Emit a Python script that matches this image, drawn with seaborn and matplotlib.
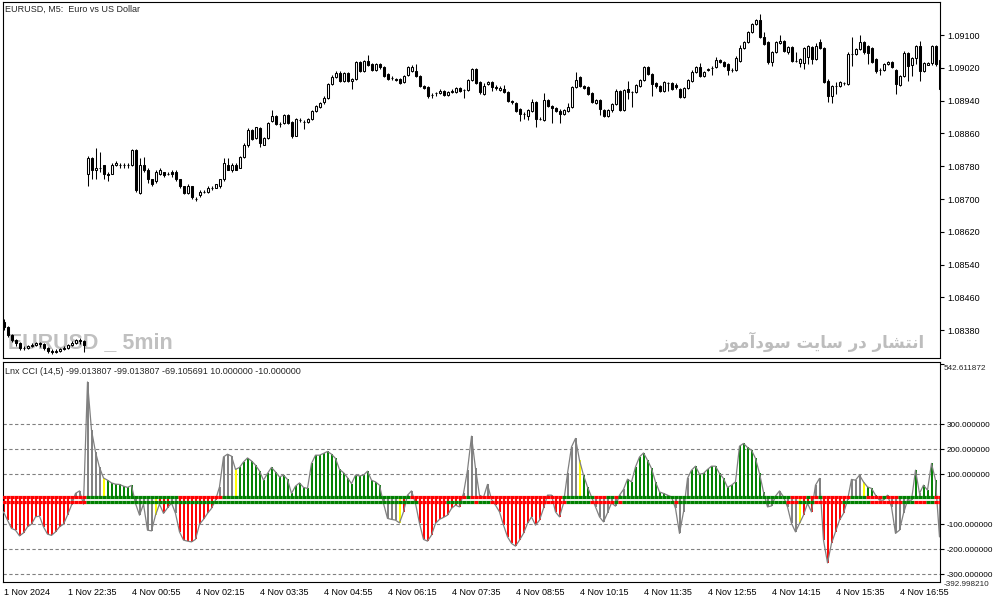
import matplotlib
matplotlib.use("Agg")
import matplotlib.pyplot as plt
import numpy as np
import pandas as pd
import seaborn as sns

# EURUSD M5 candles, prices in points (1e-5)
open_pts = [
    108400, 108388, 108369, 108356, 108349, 108337, 108337, 108342, 108344, 108349,
    108347, 108337, 108330, 108327, 108330, 108334, 108337, 108344, 108349, 108356,
    108354, 108760, 108799, 108770, 108777, 108782, 108760, 108762, 108784, 108784,
    108782, 108782, 108782, 108819, 108716, 108782, 108772, 108748, 108743, 108760,
    108765, 108762, 108767, 108767, 108748, 108731, 108716, 108731, 108701, 108709,
    108718, 108718, 108728, 108728, 108731, 108748, 108784, 108772, 108784, 108777,
    108802, 108831, 108868, 108848, 108873, 108833, 108848, 108890, 108902, 108882,
    108885, 108904, 108887, 108855, 108892, 108887, 108887, 108895, 108914, 108924,
    108936, 108946, 108980, 108997, 109007, 108987, 109007, 108987, 108992, 109034,
    109012, 109036, 109029, 109014, 109029, 109022, 109005, 108995, 108992, 108992,
    108985, 109002, 109012, 109012, 109000, 108975, 108973, 108953, 108958, 108958,
    108963, 108953, 108961, 108961, 108970, 108965, 108965, 108990, 109017, 108985,
    108956, 108980, 108985, 108973, 108965, 108968, 108961, 108939, 108934, 108919,
    108907, 108902, 108914, 108936, 108895, 108892, 108941, 108926, 108921, 108914,
    108907, 108914, 108924, 108973, 108997, 108975, 108973, 108958, 108934, 108941,
    108917, 108902, 108917, 108931, 108963, 108917, 108968, 108961, 108961, 108975,
    108990, 109022, 109005, 108983, 108975, 108963, 108983, 108983, 108978, 108968,
    108948, 108970, 108987, 109010, 109022, 109000, 109014, 109019, 109022, 109039,
    109034, 109029, 109014, 109014, 109036, 109068, 109083, 109107, 109127, 109137,
    109095, 109083, 109034, 109058, 109080, 109085, 109058, 109071, 109036, 109032,
    109032, 109046, 109071, 109041, 109083, 109068, 108987, 108951, 108975, 108975,
    108983, 108980, 109054, 109054, 109066, 109083, 109073, 109068, 109041, 109014,
    109014, 109029, 109034, 109014, 108978, 109000, 109056, 109027, 109044, 109073,
    109012, 109027, 109032, 109073, 109039,
]
high_pts = [
    108408, 108391, 108371, 108359, 108352, 108342, 108344, 108349, 108352, 108352,
    108349, 108339, 108334, 108334, 108337, 108342, 108347, 108354, 108359, 108361,
    108356, 108804, 108802, 108824, 108814, 108784, 108765, 108789, 108792, 108789,
    108787, 108787, 108821, 108821, 108799, 108802, 108775, 108750, 108770, 108775,
    108767, 108767, 108770, 108770, 108750, 108733, 108736, 108733, 108706, 108723,
    108723, 108731, 108733, 108738, 108750, 108799, 108799, 108789, 108787, 108804,
    108836, 108873, 108870, 108877, 108875, 108851, 108887, 108917, 108904, 108887,
    108907, 108907, 108890, 108897, 108897, 108892, 108897, 108917, 108929, 108936,
    108951, 108983, 109002, 109012, 109012, 109010, 109010, 108995, 109036, 109036,
    109039, 109051, 109032, 109032, 109032, 109024, 109007, 109000, 108995, 108995,
    109002, 109024, 109027, 109029, 109002, 108978, 108975, 108958, 108961, 108968,
    108965, 108963, 108968, 108973, 108973, 108968, 108992, 109019, 109019, 108987,
    108983, 108987, 108987, 108978, 108975, 108978, 108963, 108941, 108936, 108921,
    108912, 108919, 108943, 108939, 108899, 108958, 108943, 108929, 108924, 108919,
    108919, 108934, 108975, 109010, 109000, 108978, 108975, 108961, 108943, 108943,
    108919, 108919, 108934, 108968, 108965, 108968, 108987, 108963, 108980, 108992,
    109024, 109024, 109007, 108985, 108978, 108987, 108985, 108985, 108983, 108970,
    108973, 108992, 109014, 109024, 109032, 109012, 109019, 109024, 109046, 109041,
    109036, 109032, 109019, 109049, 109076, 109085, 109110, 109129, 109139, 109151,
    109107, 109085, 109061, 109085, 109100, 109088, 109073, 109073, 109058, 109044,
    109071, 109076, 109073, 109080, 109090, 109071, 108992, 108978, 108985, 108987,
    108985, 109058, 109095, 109068, 109100, 109085, 109076, 109071, 109044, 109019,
    109032, 109036, 109036, 109017, 109002, 109061, 109058, 109046, 109076, 109085,
    109034, 109034, 109076, 109076, 109041,
]
low_pts = [
    108381, 108364, 108352, 108342, 108332, 108332, 108334, 108339, 108342, 108339,
    108332, 108325, 108322, 108325, 108327, 108332, 108334, 108342, 108347, 108347,
    108327, 108731, 108748, 108748, 108765, 108748, 108743, 108760, 108780, 108777,
    108777, 108777, 108780, 108718, 108713, 108765, 108740, 108733, 108740, 108758,
    108753, 108758, 108755, 108745, 108728, 108713, 108713, 108699, 108696, 108706,
    108716, 108716, 108723, 108726, 108728, 108745, 108770, 108767, 108770, 108775,
    108799, 108828, 108843, 108846, 108826, 108831, 108846, 108887, 108880, 108877,
    108882, 108882, 108848, 108853, 108887, 108870, 108885, 108892, 108912, 108921,
    108931, 108943, 108978, 108995, 108985, 108985, 108985, 108968, 108990, 109010,
    109010, 109024, 109012, 109012, 109017, 108997, 108990, 108990, 108987, 108980,
    108983, 109000, 109010, 108997, 108973, 108968, 108946, 108946, 108951, 108956,
    108951, 108951, 108958, 108958, 108961, 108946, 108963, 108987, 108980, 108956,
    108953, 108978, 108963, 108965, 108963, 108958, 108936, 108931, 108912, 108890,
    108895, 108892, 108912, 108875, 108892, 108890, 108924, 108885, 108912, 108885,
    108904, 108912, 108921, 108970, 108973, 108968, 108953, 108934, 108931, 108904,
    108899, 108899, 108912, 108929, 108914, 108914, 108943, 108924, 108958, 108973,
    108987, 109002, 108951, 108970, 108961, 108961, 108963, 108965, 108968, 108946,
    108946, 108968, 108985, 109007, 108997, 108997, 109012, 109002, 109019, 109032,
    109022, 109002, 109010, 109012, 109034, 109066, 109080, 109105, 109124, 109093,
    109076, 109029, 109024, 109056, 109078, 109058, 109054, 109034, 109034, 109022,
    109017, 109029, 109029, 109039, 109066, 108983, 108936, 108934, 108956, 108973,
    108978, 108978, 109024, 109051, 109063, 109054, 109029, 109032, 109007, 109002,
    109012, 109027, 109019, 108956, 108975, 108997, 108987, 109000, 109029, 108987,
    109010, 109027, 109027, 109024, 108961,
]
close_pts = [
    108388, 108369, 108356, 108349, 108337, 108337, 108342, 108344, 108349, 108347,
    108337, 108330, 108327, 108330, 108334, 108337, 108344, 108349, 108356, 108354,
    108344, 108799, 108770, 108777, 108777, 108760, 108758, 108784, 108789, 108782,
    108784, 108782, 108819, 108723, 108782, 108770, 108748, 108738, 108765, 108770,
    108758, 108762, 108760, 108748, 108731, 108716, 108731, 108704, 108701, 108718,
    108718, 108726, 108728, 108736, 108748, 108787, 108772, 108784, 108772, 108802,
    108831, 108868, 108846, 108875, 108838, 108848, 108885, 108902, 108882, 108882,
    108904, 108885, 108855, 108895, 108892, 108887, 108895, 108914, 108926, 108934,
    108946, 108980, 108997, 109007, 108987, 109007, 108987, 108992, 109034, 109012,
    109036, 109027, 109014, 109029, 109022, 109000, 108992, 108995, 108990, 108983,
    109000, 109022, 109022, 109000, 108975, 108970, 108951, 108953, 108958, 108963,
    108953, 108961, 108963, 108970, 108963, 108965, 108990, 109017, 108983, 108961,
    108975, 108985, 108973, 108970, 108970, 108961, 108939, 108936, 108914, 108907,
    108907, 108917, 108936, 108895, 108895, 108941, 108926, 108921, 108914, 108907,
    108917, 108924, 108973, 108990, 108975, 108970, 108956, 108936, 108941, 108919,
    108902, 108917, 108931, 108963, 108917, 108965, 108961, 108961, 108978, 108990,
    109022, 109005, 108980, 108975, 108963, 108985, 108983, 108968, 108973, 108948,
    108970, 108990, 109010, 109022, 109000, 109010, 109017, 109019, 109039, 109034,
    109024, 109014, 109014, 109044, 109068, 109083, 109107, 109127, 109137, 109095,
    109078, 109034, 109058, 109083, 109085, 109061, 109071, 109036, 109036, 109041,
    109068, 109073, 109041, 109073, 109068, 108985, 108951, 108975, 108975, 108985,
    108983, 109054, 109054, 109066, 109083, 109058, 109056, 109034, 109012, 109014,
    109029, 109034, 109022, 108980, 109000, 109056, 109024, 109044, 109073, 109012,
    109032, 109032, 109073, 109029, 108968,
]

# Lnx CCI (14,5) histogram values
cci = [
    -51, -84, -117, -124, -147, -135, -111, -100, -71, -68,
    -111, -140, -145, -131, -111, -100, -64, -24, 23, 33,
    -20, 469, 276, 189, 127, 85, 76, 65, 60, 59,
    52, 47, 55, -17, -64, -20, -124, -127, -64, -20,
    -57, -35, -15, -57, -131, -164, -168, -171, -161, -100,
    -81, -57, -37, -4, 49, 169, 180, 172, 119, 127,
    149, 165, 153, 136, 113, 76, 103, 127, 109, 89,
    96, 79, 23, 52, 65, 47, 43, 143, 176, 176,
    183, 191, 180, 163, 119, 106, 86, 62, 96, 93,
    96, 112, 76, 69, 56, -17, -77, -81, -84, -95,
    -51, 16, 33, -17, -97, -161, -168, -144, -97, -81,
    -73, -64, -37, -24, -31, 23, 116, 252, 123, 16,
    7, 59, -1, -24, -51, -104, -151, -177, -188, -164,
    -137, -97, -71, -104, -84, -37, 16, 16, -51, -71,
    -17, 103, 209, 243, 156, 96, 49, 9, -31, -71,
    -91, -55, -15, -28, 16, 39, 80, 69, 129, 169,
    185, 156, 123, 69, 29, 23, 16, 9, -37, -137,
    -51, 83, 116, 132, 100, 103, 119, 132, 132, 103,
    83, 47, 56, 69, 212, 223, 207, 196, 163, 103,
    29, -31, -27, 12, 33, 9, -31, -97, -131, -97,
    -64, -17, -51, 56, 83, -164, -255, -177, -131, -84,
    -57, -4, 79, 76, 96, 69, 49, 43, 16, -4,
    -4, 16, -31, -137, -124, -57, -4, -4, 116, 23,
    56, 36, 143, 76, -151,
]

# histogram colour runs: r=down, g=up, k=neutral, y=signal
hist_runs = [("r", 17), ("k", 8), ("y", 1), ("g", 7), ("k", 5), ("y", 1), ("r", 3), ("k", 2),
             ("r", 10), ("k", 4), ("y", 1), ("g", 36), ("k", 4), ("y", 1), ("r", 1), ("k", 2),
             ("r", 12), ("k", 8), ("r", 13), ("k", 2), ("r", 2), ("k", 4), ("y", 1), ("g", 2),
             ("k", 9), ("g", 11), ("k", 5), ("g", 19), ("k", 2), ("g", 1), ("k", 5), ("y", 1),
             ("r", 3), ("k", 2), ("r", 6), ("k", 4), ("y", 1), ("g", 3), ("k", 9), ("g", 1),
             ("k", 1), ("g", 4), ("k", 1)]
upper_runs = [("r", 21), ("g", 23), ("r", 11), ("g", 47), ("r", 14), ("g", 1), ("r", 23), ("g", 8),
              ("r", 3), ("g", 2), ("r", 1), ("g", 43), ("r", 4), ("g", 1), ("r", 2), ("g", 1),
              ("r", 7), ("g", 4), ("r", 4), ("g", 1), ("r", 3), ("g", 9), ("r", 2)]
lower_runs = [("r", 21), ("g", 83), ("r", 7), ("g", 7), ("r", 1), ("g", 3), ("r", 19), ("g", 6),
              ("r", 6), ("g", 1), ("r", 1), ("g", 13), ("r", 1), ("g", 27), ("r", 3), ("g", 4),
              ("r", 7), ("g", 7), ("r", 8), ("g", 3), ("r", 3), ("g", 2), ("r", 2)]
level_hi, level_lo = 10.0, -10.0

tick_bars = [0, 16, 32, 48, 64, 80, 96, 112, 128, 144, 160, 176, 192, 208, 224]
tick_labels = ["1 Nov 2024", "1 Nov 22:35", "4 Nov 00:55", "4 Nov 02:15", "4 Nov 03:35",
               "4 Nov 04:55", "4 Nov 06:15", "4 Nov 07:35", "4 Nov 08:55", "4 Nov 10:15",
               "4 Nov 11:35", "4 Nov 12:55", "4 Nov 14:15", "4 Nov 15:35", "4 Nov 16:55"]
price_ticks = [1.0838, 1.0846, 1.0854, 1.0862, 1.0870, 1.0878, 1.0886, 1.0894, 1.0902, 1.0910]
cci_ticks = [300, 200, 100, -100, -200, -300]
cci_max, cci_min = 542.611872, -392.998210

PALETTE = {"r": "#ff0000", "g": "#008000", "k": "#808080", "y": "#ffff00"}


def expand(runs):
    return [PALETTE[c] for c, n in runs for _ in range(n)]


df = pd.DataFrame({"open": open_pts, "high": high_pts, "low": low_pts, "close": close_pts}) / 1e5
df["cci"] = cci
n = len(df)
idx = np.arange(n)

sns.set_style("white")
plt.rcParams["font.family"] = ["Liberation Sans", "DejaVu Sans"]

W, H = 994, 603
fig = plt.figure(figsize=(W / 100, H / 100), dpi=100)


def box(l, t, r, b):
    return [l / W, 1 - b / H, (r - l) / W, (b - t) / H]


ax = fig.add_axes(box(3, 2, 940, 358))
ax2 = fig.add_axes(box(3, 362, 940, 581.5))
xlim = (-0.125, 234.125)

# --- price panel
bull = df["close"] >= df["open"]
ax.vlines(idx, df["low"], df["high"], color="black", lw=0.75, zorder=2)
ax.bar(idx, (df["close"] - df["open"]).abs(), bottom=df[["open", "close"]].min(axis=1),
       width=0.5, color=np.where(bull, "white", "black"), edgecolor="black",
       linewidth=0.75, zorder=3)
ax.set_xlim(*xlim)
ax.set_ylim(1.083124, 1.091807)
ax.set_xticks([])
ax.yaxis.tick_right()
ax.set_yticks(price_ticks)
ax.set_yticklabels([f"{p:.5f}" for p in price_ticks])

# watermarks (under the candles)
ax.text(8 / W, 1 - 343 / H, "EURUSD _ 5min", transform=fig.transFigure, color="#c0c0c0",
        fontsize=15.5, fontweight="bold", va="center", ha="left", zorder=1,
        family=["Liberation Sans"])
fa = ("\ufeaf\ufeee\ufee3\ufe81\ufea9\ufeee\ufeb3 \ufe96\ufef3\ufe8e\ufeb3 "
      "\ufead\ufea9 \ufead\ufe8e\ufeb8\ufe98\ufee7\ufe8d")
ax.text(925 / W, 1 - 342 / H, fa, transform=fig.transFigure, color="#bdbdbd",
        fontsize=12, fontweight="bold", va="center", ha="right", zorder=1,
        family=["DejaVu Sans"])

# --- CCI panel
ax2.vlines(idx, 0, df["cci"], colors=expand(hist_runs), lw=1.4, zorder=2)
sns.lineplot(x=idx, y=df["cci"].to_numpy(), ax=ax2, color="#808080", lw=0.9, zorder=3)
ax2.hlines(np.full(n, level_hi), idx - 0.5, idx + 0.5, colors=expand(upper_runs), lw=2.3, zorder=4)
ax2.hlines(np.full(n, level_lo), idx - 0.5, idx + 0.5, colors=expand(lower_runs), lw=2.3, zorder=4)
for v in cci_ticks:
    ax2.axhline(v, color="#808080", lw=0.8, dashes=(3, 2.2), zorder=1)
ax2.set_xlim(*xlim)
ax2.set_ylim(-329.6, 549)
ax2.yaxis.tick_right()
ax2.set_yticks(cci_ticks + [cci_max])
ax2.set_yticklabels([f"{v:.6f}" for v in cci_ticks] + [""])
ax2.set_xticks(tick_bars)
ax2.set_xticklabels(tick_labels, ha="left")
ax2.set_ylabel("")

for a in (ax, ax2):
    for s in a.spines.values():
        s.set_color("black")
        s.set_linewidth(0.8)
    a.tick_params(axis="both", direction="out", length=3, width=0.8, pad=2,
                  labelsize=6.5, colors="black")
ax2.tick_params(axis="y", labelsize=5.9, pad=1.5)

fig.text(944 / W, 1 - 368 / H, f"{cci_max:.6f}", fontsize=5.9, va="center", ha="left")
fig.text(944 / W, 1 - 584 / H, f"{cci_min:.6f}", fontsize=5.9, va="center", ha="left")

fig.text(5 / W, 1 - 9 / H, "EURUSD, M5:  Euro vs US Dollar", fontsize=6.5, va="center")
fig.text(5 / W, 1 - 372 / H,
         "Lnx CCI (14,5) -99.013807 -99.013807 -69.105691 10.000000 -10.000000",
         fontsize=6.5, va="center")

fig.savefig("out.png", dpi=100, facecolor="white")
